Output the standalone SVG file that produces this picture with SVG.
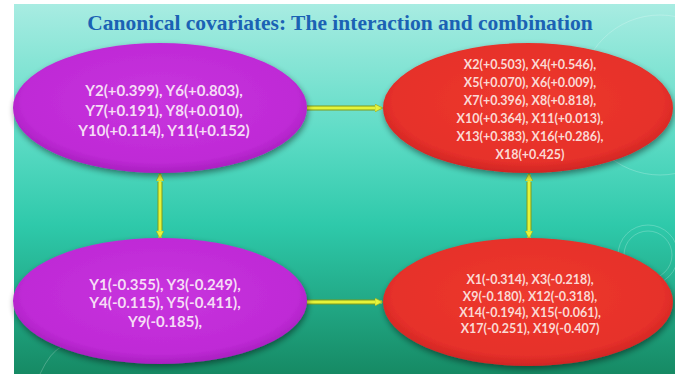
<svg xmlns="http://www.w3.org/2000/svg" width="675" height="374" viewBox="0 0 675 374">
  <defs>
    <linearGradient id="bg" x1="0" y1="0" x2="0" y2="1">
      <stop offset="0" stop-color="#a8ece2"/>
      <stop offset="0.35" stop-color="#5edcc6"/>
      <stop offset="0.6" stop-color="#2ec9aa"/>
      <stop offset="1" stop-color="#168a64"/>
    </linearGradient>
    <radialGradient id="purple" cx="0.5" cy="0.45" r="0.55">
      <stop offset="0" stop-color="#c834de"/>
      <stop offset="0.85" stop-color="#bf2ad6"/>
      <stop offset="1" stop-color="#a81fbf"/>
    </radialGradient>
    <radialGradient id="red" cx="0.5" cy="0.45" r="0.55">
      <stop offset="0" stop-color="#ee3a2e"/>
      <stop offset="0.85" stop-color="#e6302a"/>
      <stop offset="1" stop-color="#cf2624"/>
    </radialGradient>
    <filter id="shadow" x="-10%" y="-10%" width="120%" height="130%">
      <feGaussianBlur in="SourceAlpha" stdDeviation="3"/>
      <feOffset dx="1" dy="3" result="b"/>
      <feComponentTransfer><feFuncA type="linear" slope="0.45"/></feComponentTransfer>
      <feMerge><feMergeNode/><feMergeNode in="SourceGraphic"/></feMerge>
    </filter>
    <marker id="arr" viewBox="0 0 10 10" refX="9" refY="5" markerWidth="8" markerHeight="8" markerUnits="userSpaceOnUse" orient="auto-start-reverse">
      <path d="M0,0 L10,5 L0,10 Z" fill="#e6f53c" stroke="#8fa324" stroke-width="0.8"/>
    </marker>
    <style>
      .node text { font-family: Lato, "Open Sans", "Liberation Sans", sans-serif; font-weight: bold; text-anchor: middle; }
      .pt text { fill: #f6dcf6; font-size: 15px; }
      .rt text { fill: #fbd9d4; font-size: 12.5px; }
      .edge-o { stroke: #7f9a1c; stroke-width: 5; fill: none; }
      .edge { stroke: #e4f43a; stroke-width: 3; fill: none; }
      .deco { fill: none; stroke: #ffffff; stroke-opacity: 0.22; stroke-width: 1; }
    </style>
  </defs>
  <rect x="0" y="0" width="675" height="374" fill="#ffffff"/>
  <rect x="14" y="4" width="661" height="370" fill="url(#bg)"/>
  <g id="decor">
    <circle class="deco" cx="660" cy="95" r="80"/>
    <circle class="deco" cx="648" cy="255" r="30"/>
    <circle class="deco" cx="648" cy="255" r="24"/>
    <path class="deco" d="M40,374 Q60,330 90,350"/>
  </g>
  <text x="340" y="30" font-family="Liberation Serif, serif" font-weight="bold" font-size="21.5" fill="#1b62b4" text-anchor="middle">Canonical covariates: The interaction and combination</text>

  <g id="connectors">
    <line class="edge-o" x1="307" y1="108" x2="375" y2="108"/>
    <line class="edge" x1="307" y1="108" x2="382" y2="108" marker-end="url(#arr)"/>
    <line class="edge-o" x1="307" y1="302" x2="375" y2="302"/>
    <line class="edge" x1="307" y1="302" x2="382" y2="302" marker-end="url(#arr)"/>
    <line class="edge-o" x1="160" y1="182" x2="160" y2="230"/>
    <line class="edge" x1="160" y1="174" x2="160" y2="238" marker-start="url(#arr)" marker-end="url(#arr)"/>
    <line class="edge-o" x1="529" y1="182" x2="529" y2="230"/>
    <line class="edge" x1="529" y1="174" x2="529" y2="238" marker-start="url(#arr)" marker-end="url(#arr)"/>
  </g>

  <g id="node-y-pos" class="node pt">
    <ellipse cx="160" cy="108" rx="147" ry="65" fill="url(#purple)" filter="url(#shadow)"/>
    <text x="164" y="96">Y2(+0.399), Y6(+0.803),</text>
    <text x="164" y="116">Y7(+0.191), Y8(+0.010),</text>
    <text x="164" y="136">Y10(+0.114), Y11(+0.152)</text>
  </g>

  <g id="node-x-pos" class="node rt">
    <ellipse cx="528" cy="108" rx="145" ry="65" fill="url(#red)" filter="url(#shadow)"/>
    <text x="530" y="69">X2(+0.503), X4(+0.546),</text>
    <text x="530" y="87">X5(+0.070), X6(+0.009),</text>
    <text x="530" y="105">X7(+0.396), X8(+0.818),</text>
    <text x="530" y="123">X10(+0.364), X11(+0.013),</text>
    <text x="530" y="141">X13(+0.383), X16(+0.286),</text>
    <text x="530" y="159">X18(+0.425)</text>
  </g>

  <g id="node-y-neg" class="node pt">
    <ellipse cx="160" cy="301" rx="147" ry="63" fill="url(#purple)" filter="url(#shadow)"/>
    <text x="165" y="290">Y1(-0.355), Y3(-0.249),</text>
    <text x="165" y="308">Y4(-0.115), Y5(-0.411),</text>
    <text x="165" y="327">Y9(-0.185),</text>
  </g>

  <g id="node-x-neg" class="node rt">
    <ellipse cx="528" cy="302" rx="145" ry="64" fill="url(#red)" filter="url(#shadow)"/>
    <text x="530" y="284">X1(-0.314), X3(-0.218),</text>
    <text x="530" y="301">X9(-0.180), X12(-0.318),</text>
    <text x="530" y="317">X14(-0.194), X15(-0.061),</text>
    <text x="530" y="333">X17(-0.251), X19(-0.407)</text>
  </g>
</svg>
